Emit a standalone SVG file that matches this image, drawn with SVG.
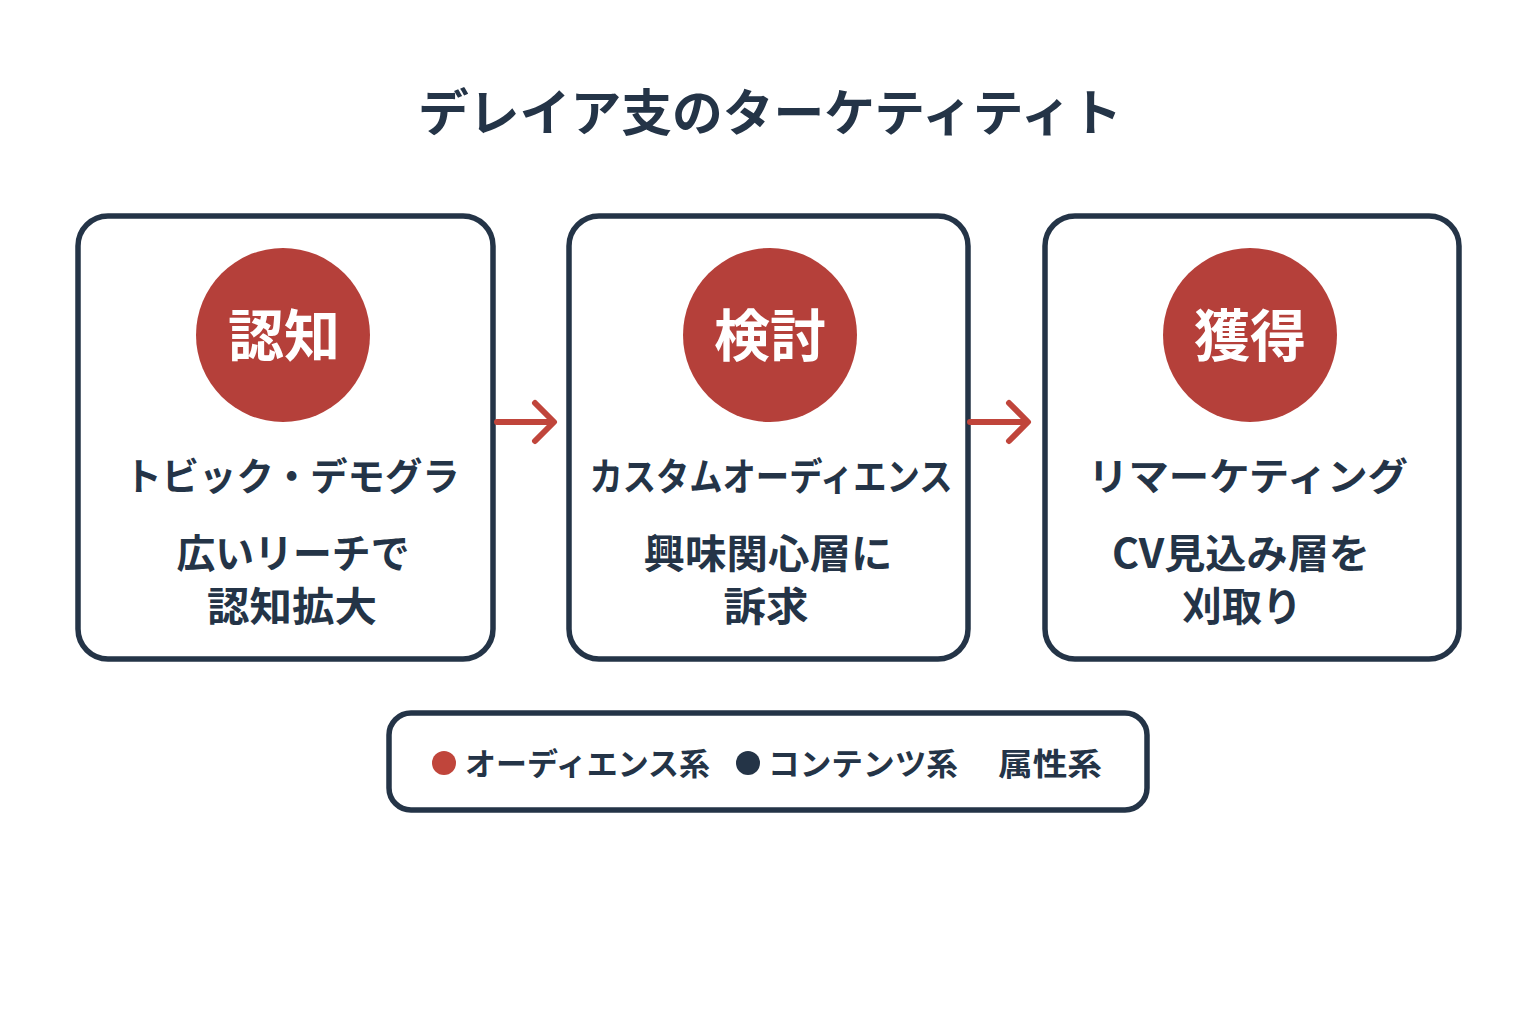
<svg xmlns="http://www.w3.org/2000/svg" width="1536" height="1024" viewBox="0 0 1536 1024">
<style>
text{font-family:"Noto Sans CJK JP","Noto Sans",sans-serif;font-weight:700;text-anchor:middle;fill:#243447}
.box{fill:#fff;stroke:#243447;stroke-width:5.5}
.circ{fill:#b5403a}
.ct{fill:#fff;font-size:56px}
.l1{font-size:38px}
.l2{font-size:40px}
.lg{font-size:31px;text-anchor:start}
.arr{fill:none;stroke:#c0453b;stroke-width:6;stroke-linecap:round;stroke-linejoin:round}
</style>
<rect width="1536" height="1024" fill="#fff"/>
<text id="title" x="770" y="131" style="font-size:50px" textLength="704" lengthAdjust="spacingAndGlyphs">デレイア支のターケティティト</text>
<g id="node1">
<rect class="box" x="78" y="216" width="415" height="443" rx="30"/>
<circle class="circ" cx="283" cy="335" r="87"/>
<text class="ct" x="284" y="356" textLength="112" lengthAdjust="spacingAndGlyphs">認知</text>
<text class="l1" x="292" y="490" textLength="335" lengthAdjust="spacingAndGlyphs">トビック・デモグラ</text>
<text class="l2" x="293" y="568" textLength="233" lengthAdjust="spacingAndGlyphs">広いリーチで</text>
<text class="l2" x="292" y="621" textLength="170" lengthAdjust="spacingAndGlyphs">認知拡大</text>
</g>
<g id="node2">
<rect class="box" x="569" y="216" width="399" height="443" rx="30"/>
<circle class="circ" cx="770" cy="335" r="87"/>
<text class="ct" x="770" y="356" textLength="112" lengthAdjust="spacingAndGlyphs">検討</text>
<text class="l1" x="771" y="490" textLength="363" lengthAdjust="spacingAndGlyphs">カスタムオーディエンス</text>
<text class="l2" x="768" y="568" textLength="249" lengthAdjust="spacingAndGlyphs">興味関心層に</text>
<text class="l2" x="766" y="621" textLength="85" lengthAdjust="spacingAndGlyphs">訴求</text>
</g>
<g id="node3">
<rect class="box" x="1045" y="216" width="414" height="443" rx="30"/>
<circle class="circ" cx="1250" cy="335" r="87"/>
<text class="ct" x="1250" y="356" textLength="112" lengthAdjust="spacingAndGlyphs">獲得</text>
<text class="l1" x="1248" y="490" textLength="320" lengthAdjust="spacingAndGlyphs">リマーケティング</text>
<text class="l2" x="1241" y="568" textLength="258" lengthAdjust="spacingAndGlyphs">CV見込み層を</text>
<text class="l2" x="1242" y="621" textLength="120" lengthAdjust="spacingAndGlyphs">刈取り</text>
</g>
<g id="connectors">
<path class="arr" d="M497 422 H553 M535 403 L554 422 L535 441"/>
<path class="arr" d="M970 422 H1027 M1009 403 L1028 422 L1009 441"/>
</g>
<g id="legend">
<rect class="box" x="389" y="713" width="758" height="97" rx="22"/>
<circle cx="444" cy="763" r="12" fill="#c0453b"/>
<text class="lg" x="465" y="775" textLength="245" lengthAdjust="spacingAndGlyphs">オーディエンス系</text>
<circle cx="748" cy="763" r="12" fill="#243447"/>
<text class="lg" x="768" y="775" textLength="190" lengthAdjust="spacingAndGlyphs">コンテンツ系</text>
<text class="lg" x="998" y="775" textLength="104" lengthAdjust="spacingAndGlyphs">属性系</text>
</g>
</svg>
